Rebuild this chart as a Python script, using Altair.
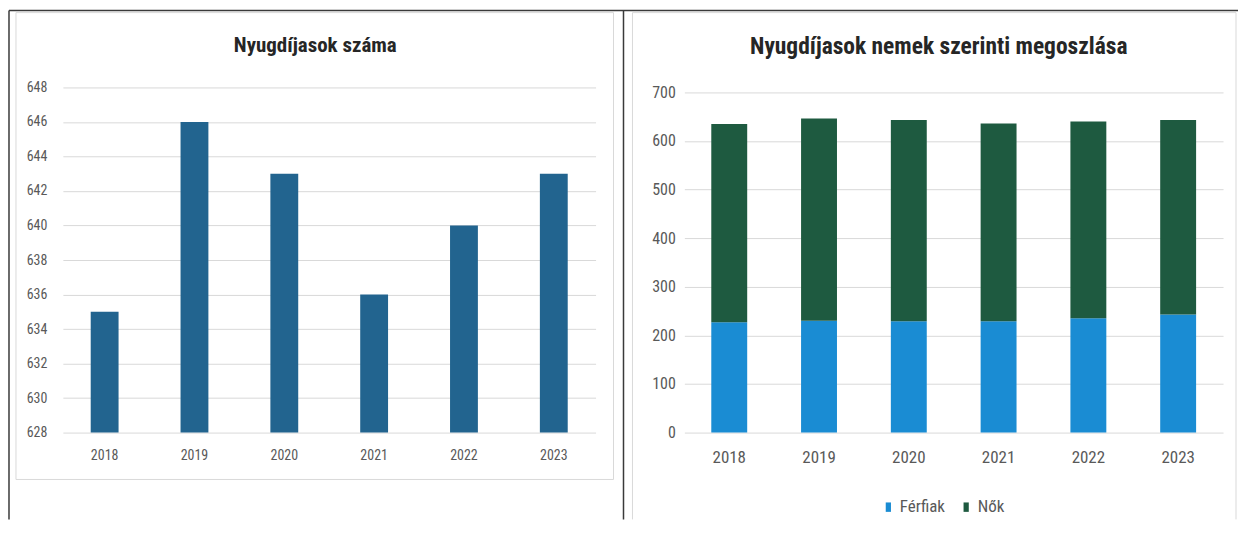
import altair as alt
import pandas as pd

years = ["2018", "2019", "2020", "2021", "2022", "2023"]
totals = [635, 646, 643, 636, 640, 643]
ferfiak = [227, 230, 229, 229, 235, 243]
nok = [408, 416, 414, 407, 405, 400]
left_ticks = [628, 630, 632, 634, 636, 638, 640, 642, 644, 646, 648]
right_ticks = [0, 100, 200, 300, 400, 500, 600, 700]
series = ["Férfiak", "Nők"]
left_title = "Nyugdíjasok száma"
right_title = "Nyugdíjasok nemek szerinti megoszlása"

FONT = "Liberation Sans Narrow, Roboto Condensed, Arial Narrow, Liberation Sans, sans-serif"
LABEL = "#595959"
GRID = "#d9d9d9"
DARK = "#262626"

df_total = pd.DataFrame({"year": years, "total": totals})
rows = []
for y, f, n in zip(years, ferfiak, nok):
    rows.append({"year": y, "sex": series[0], "value": f, "idx": 0})
    rows.append({"year": y, "sex": series[1], "value": n, "idx": 1})
df_sex = pd.DataFrame(rows)
one = pd.DataFrame({"k": [0]})

LW, LH = 534, 346
RW, RH = 540, 346

bars_left = alt.Chart(df_total).mark_bar(color="#22648f").encode(
    x=alt.X("year:N", title=None,
            scale=alt.Scale(paddingInner=0.69, paddingOuter=0.31),
            axis=alt.Axis(labelAngle=0, labelFontSize=14, labelPadding=16,
                          labelColor=LABEL, labelFont=FONT, domain=False, ticks=False)),
    y=alt.Y("total:Q", title=None,
            scale=alt.Scale(domain=[628, 648], zero=False, nice=False),
            axis=alt.Axis(values=left_ticks, labelFontSize=14, labelPadding=16,
                          labelColor=LABEL, labelFont=FONT, domain=False, ticks=False,
                          gridColor=GRID, gridWidth=1)),
    y2=alt.datum(628),
)

base1 = alt.Chart(one)
BLK = dict(color="#3a3a3a", strokeWidth=1.5)
frame_top = base1.mark_rule(**BLK).encode(
    x=alt.value(-54), x2=alt.value(1178), y=alt.value(-77))
frame_left = base1.mark_rule(**BLK).encode(
    x=alt.value(-54), y=alt.value(-77), y2=alt.value(433))
frame_div = base1.mark_rule(**BLK).encode(
    x=alt.value(562), y=alt.value(-77), y2=alt.value(433))
box_left = base1.mark_rect(fillOpacity=0, stroke=GRID, strokeWidth=1).encode(
    x=alt.value(-47), x2=alt.value(552), y=alt.value(-75), y2=alt.value(393))
LG = dict(color=GRID, strokeWidth=1)
box_r_top = base1.mark_rule(**LG).encode(
    x=alt.value(571), x2=alt.value(1176), y=alt.value(-75))
box_r_left = base1.mark_rule(**LG).encode(
    x=alt.value(571), y=alt.value(-75), y2=alt.value(433))
box_r_right = base1.mark_rule(**LG).encode(
    x=alt.value(1176), y=alt.value(-75), y2=alt.value(433))
title_l = alt.Chart(pd.DataFrame({"t": [left_title]})).mark_text(
    font=FONT, fontSize=21, fontWeight="bold", color=DARK, align="center",
    baseline="alphabetic").encode(text="t:N", x=alt.value(253), y=alt.value(-36))

left = alt.layer(box_left, box_r_top, box_r_left, box_r_right, frame_top, frame_left,
                 frame_div, title_l, bars_left).properties(width=LW, height=LH)

bars_right = alt.Chart(df_sex).mark_bar().encode(
    x=alt.X("year:N", title=None,
            scale=alt.Scale(paddingInner=0.6, paddingOuter=0.3),
            axis=alt.Axis(labelAngle=0, labelFontSize=17, labelPadding=17,
                          labelColor=LABEL, labelFont=FONT, domain=False, ticks=False)),
    y=alt.Y("value:Q", title=None, stack="zero",
            scale=alt.Scale(domain=[0, 710], nice=False),
            axis=alt.Axis(values=right_ticks, labelFontSize=16, labelPadding=9,
                          labelColor=LABEL, labelFont=FONT, domain=False, ticks=False,
                          gridColor=GRID, gridWidth=1)),
    color=alt.Color("sex:N", title=None,
                    scale=alt.Scale(domain=series, range=["#1a8cd3", "#1e5a40"]),
                    legend=alt.Legend(orient="none", legendX=819, legendY=412,
                                      direction="horizontal", labelFontSize=17,
                                      labelFont=FONT, labelColor=LABEL,
                                      symbolType="M-0.5,-0.9H0.5V0.9H-0.5Z",
                                      symbolSize=110, symbolStrokeWidth=0,
                                      columnPadding=12, labelOffset=3)),
    order=alt.Order("idx:Q", sort="ascending"),
)
title_r = alt.Chart(pd.DataFrame({"t": [right_title]})).mark_text(
    font=FONT, fontSize=23.5, fontWeight="bold", color=DARK, align="center",
    baseline="alphabetic").encode(text="t:N", x=alt.value(255), y=alt.value(-34))

right = alt.layer(title_r, bars_right).properties(width=RW, height=RH)

chart = alt.hconcat(left, right, spacing=89, bounds="flush").properties(
    padding={"left": 0, "top": 1, "right": 0, "bottom": 0},
).configure_view(stroke=None)

chart.save("out.html", embed_options={"renderer": "svg", "actions": False})
